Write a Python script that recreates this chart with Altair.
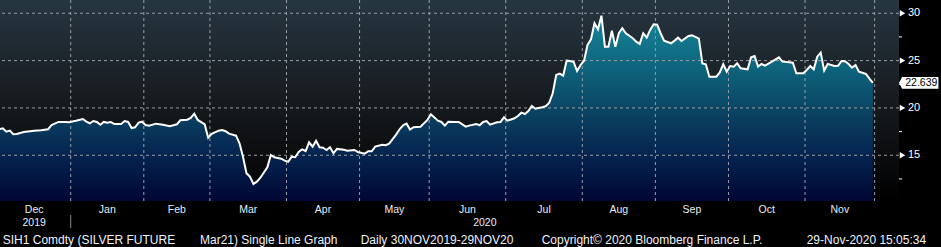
import altair as alt
import pandas as pd

# ---- data (trading-day index, price) ----
day_index = [0, 1, 2, 3, 4, 5, 7, 10, 12, 14, 15, 17, 19, 20, 22, 24, 25, 26, 27, 28,
             29, 30, 31, 32, 33, 35, 36, 37, 38, 39, 40, 41, 42, 43, 45, 47, 49, 51, 52, 54,
             55, 56, 57, 59, 60, 61, 63, 64, 65, 66, 68, 69, 70, 71, 72, 73, 74, 75, 77, 78,
             79, 81, 82, 83, 84, 85, 86, 87, 88, 89, 90, 91, 92, 93, 94, 95, 96, 97, 99, 100,
             102, 103, 105, 106, 107, 108, 110, 111, 112, 114, 115, 116, 117, 118, 119, 121, 123, 124, 126, 127,
             128, 129, 131, 132, 134, 135, 137, 138, 139, 140, 141, 143, 144, 145, 146, 148, 149, 150, 151, 152,
             153, 154, 156, 157, 158, 159, 160, 161, 162, 163, 164, 165, 166, 167, 168, 169, 170, 171, 172, 173,
             174, 175, 176, 177, 178, 179, 180, 182, 183, 184, 185, 186, 187, 188, 189, 190, 191, 193, 194, 195,
             196, 198, 199, 200, 201, 202, 203, 204, 206, 207, 208, 209, 210, 211, 212, 213, 215, 216, 217, 218,
             219, 220, 222, 224, 225, 227, 228, 229, 231, 232, 233, 234, 235, 236, 237, 238, 240, 241, 242, 243,
             244, 245, 246, 247, 249, 250, 251]
price = [17.75, 17.85, 17.49, 17.60, 17.22, 17.25, 17.46, 17.60, 17.64, 17.75, 18.20, 18.52, 18.52, 18.49, 18.65, 18.83, 18.55, 18.38, 18.62, 18.52,
         18.23, 18.52, 18.44, 18.52, 18.31, 18.31, 18.62, 18.52, 17.88, 17.96, 18.44, 18.55, 18.20, 18.13, 18.34, 18.23, 18.06, 18.27, 18.70, 18.76,
         18.94, 19.39, 18.73, 18.25, 16.86, 17.27, 17.60, 17.67, 17.54, 17.28, 17.07, 16.27, 14.85, 13.10, 12.74, 11.97, 12.21, 12.63, 13.73, 15.03,
         14.79, 14.64, 14.43, 14.32, 14.85, 14.79, 15.35, 15.63, 15.45, 16.37, 15.91, 16.54, 15.85, 15.80, 15.56, 15.85, 15.21, 15.67, 15.59, 15.49,
         15.56, 15.35, 15.17, 15.42, 15.42, 15.91, 16.12, 16.06, 16.23, 17.18, 17.75, 18.17, 18.34, 17.72, 17.96, 18.02, 18.73, 19.33, 18.65, 18.52,
         18.13, 18.55, 18.52, 18.52, 18.02, 18.13, 18.31, 18.17, 18.52, 18.62, 18.23, 18.49, 18.52, 19.01, 18.65, 18.91, 19.15, 19.50, 19.36, 19.68,
         20.21, 19.92, 20.07, 20.18, 20.56, 21.55, 23.48, 23.62, 23.41, 24.99, 24.96, 24.86, 23.90, 24.54, 24.99, 26.65, 27.25, 28.94, 28.30, 29.75,
         26.47, 26.47, 28.16, 26.47, 27.89, 28.42, 27.89, 27.36, 27.00, 26.76, 27.89, 27.42, 28.24, 28.84, 28.80, 27.89, 27.11, 26.83, 27.11, 27.42,
         27.07, 27.60, 27.66, 27.50, 27.32, 24.70, 24.61, 23.30, 23.30, 23.75, 24.61, 23.83, 24.43, 24.36, 24.72, 24.19, 24.08, 25.35, 25.49, 24.36,
         24.64, 24.46, 24.89, 25.35, 24.89, 24.82, 24.78, 23.66, 23.66, 24.01, 24.43, 24.08, 25.42, 25.84, 23.94, 24.64, 24.43, 24.46, 24.96, 24.93,
         24.64, 24.25, 24.54, 23.83, 23.59, 23.10, 22.639]

month_names = ["Dec", "Jan", "Feb", "Mar", "Apr", "May", "Jun", "Jul", "Aug", "Sep", "Oct", "Nov"]
month_trading_days = [21, 21, 19, 22, 21, 20, 22, 22, 21, 21, 22, 20]
y_ticks = [15, 20, 25, 30]
y_minor = [12.5, 17.5, 22.5, 27.5]
last_value = 22.639
year_labels = ["2019", "2020"]
footer_texts = ["SIH1 Comdty (SILVER FUTURE", "Mar21) Single Line Graph",
                "Daily 30NOV2019-29NOV20", "Copyright\u00a9 2020 Bloomberg Finance L.P.",
                "29-Nov-2020 15:05:34"]

# ---- derived tables ----
W, H = 899, 201
X_DOMAIN = [0.18, 258.5]
Y_DOMAIN = [10.17, 31.40]

starts, ends = [], []
s = -0.5
for d in month_trading_days:
    starts.append(s)
    ends.append(s + d)
    s += d
months = pd.DataFrame({"m": month_names,
                       "mid": [(a + b) / 2 for a, b in zip(starts, ends)]})
bounds = pd.DataFrame({"b": ends})
years = pd.DataFrame({"yr": year_labels,
                      "mid": [(starts[0] + ends[0]) / 2, (ends[0] + X_DOMAIN[1]) / 2]})
sep = pd.DataFrame({"b": [ends[0]]})
series = pd.DataFrame({"i": day_index, "v": price})
ymaj = pd.DataFrame({"v": y_ticks, "t": [str(v) for v in y_ticks]})
ymin = pd.DataFrame({"v": y_minor})
last = pd.DataFrame({"v": [last_value], "t": [f"{last_value:.3f}"]})
one = pd.DataFrame({"a": [0]})

xs = alt.Scale(domain=X_DOMAIN, nice=False, zero=False)
ys = alt.Scale(domain=Y_DOMAIN, nice=False, zero=False)
FONT = "Liberation Sans"
GRID = "#9a9da2"

bg = alt.Chart(one).mark_rect(
    fill=alt.Gradient(gradient="linear", x1=0, x2=0, y1=0, y2=1,
                      stops=[alt.GradientStop(color="#263641", offset=0),
                             alt.GradientStop(color="#171b1f", offset=0.5),
                             alt.GradientStop(color="#000000", offset=1)])
).encode(x=alt.value(0), x2=alt.value(W), y=alt.value(0), y2=alt.value(H))

area = alt.Chart(series).mark_area(
    clip=True,
    color=alt.Gradient(gradient="linear", x1=0, x2=0, y1=0, y2=1,
                       stops=[alt.GradientStop(color="#168699", offset=0),
                              alt.GradientStop(color="#0f6880", offset=0.25),
                              alt.GradientStop(color="#0a3f5f", offset=0.55),
                              alt.GradientStop(color="#052450", offset=0.75),
                              alt.GradientStop(color="#000634", offset=1)])
).encode(
    x=alt.X("i:Q", scale=xs,
            axis=alt.Axis(values=ends, labels=False, title=None, grid=False,
                          domainColor="white", domainWidth=1.5, tickColor="white",
                          tickSize=4, tickWidth=1.5, orient="bottom")),
    y=alt.Y("v:Q", scale=ys, stack=None,
            axis=alt.Axis(values=y_ticks, orient="right", title=None, grid=False,
                          ticks=False, labels=False, domainColor="white",
                          domainWidth=1.5)),
    y2=alt.Y2(datum=Y_DOMAIN[0]),
)

hgrid = alt.Chart(ymaj).mark_rule(color=GRID, strokeDash=[3, 3], strokeWidth=1).encode(
    y=alt.Y("v:Q", scale=ys, axis=None))
vgrid = alt.Chart(bounds).mark_rule(color=GRID, strokeDash=[3, 3], strokeWidth=1).encode(
    x=alt.X("b:Q", scale=xs, axis=None))

line = alt.Chart(series).mark_line(color="white", strokeWidth=2, clip=True).encode(
    x=alt.X("i:Q", scale=xs, axis=None), y=alt.Y("v:Q", scale=ys, axis=None))

minor = alt.Chart(ymin).mark_rule(color="white", strokeWidth=1).encode(
    y=alt.Y("v:Q", scale=ys, axis=None), x=alt.value(W), x2=alt.value(W + 3))
tri = alt.Chart(ymaj).mark_point(shape="triangle-right", filled=True, color="white",
                                 size=40, opacity=1).encode(
    y=alt.Y("v:Q", scale=ys, axis=None), x=alt.value(W + 3.5))
ytext = alt.Chart(ymaj).mark_text(font=FONT, fontSize=11, color="white",
                                  align="left", baseline="middle").encode(
    y=alt.Y("v:Q", scale=ys, axis=None), x=alt.value(W + 9), text="t:N")

badge = alt.Chart(last).mark_point(
    shape="M -1 0 L -0.84 -0.3 L 1 -0.3 L 1 0.3 L -0.84 0.3 Z",
    filled=True, color="white", size=1560, opacity=1).encode(
    y=alt.Y("v:Q", scale=ys, axis=None), x=alt.value(W + 19.7))
badge_txt = alt.Chart(last).mark_text(font=FONT, fontSize=10.5, color="black",
                                      align="center", baseline="middle").encode(
    y=alt.Y("v:Q", scale=ys, axis=None), x=alt.value(W + 22.3), text="t:N")

mlabels = alt.Chart(months).mark_text(font=FONT, fontSize=10.5, color="#e6ecf5",
                                      align="center", baseline="middle").encode(
    x=alt.X("mid:Q", scale=xs, axis=None), y=alt.value(209.5), text="m:N")
ylabels = alt.Chart(years).mark_text(font=FONT, fontSize=10.5, color="#e6ecf5",
                                     align="center", baseline="middle").encode(
    x=alt.X("mid:Q", scale=xs, axis=None), y=alt.value(222.5), text="yr:N")
ysep = alt.Chart(sep).mark_rule(color="#8a8a8a", strokeWidth=1).encode(
    x=alt.X("b:Q", scale=xs, axis=None), y=alt.value(215), y2=alt.value(228))

footer_x = [2.7, 200, 360.7, 541.7, 806.7]
footer_layers = [
    alt.Chart(one).mark_text(text=t, font=FONT, fontSize=12, color="#eef2f8",
                             align="left", baseline="middle").encode(
        x=alt.value(fx), y=alt.value(239.5))
    for t, fx in zip(footer_texts, footer_x)
]

chart = alt.layer(
    bg, area, hgrid, vgrid, line, minor, tri, ytext, badge, badge_txt,
    mlabels, ylabels, ysep, *footer_layers
).properties(
    width=W, height=H,
    autosize=alt.AutoSizeParams(type="none"),
    padding={"left": 0, "top": 0, "right": 42, "bottom": 46},
    background="#000000",
).configure_view(stroke=None)

chart.save("out.html", embed_options={"renderer": "svg", "actions": False})
